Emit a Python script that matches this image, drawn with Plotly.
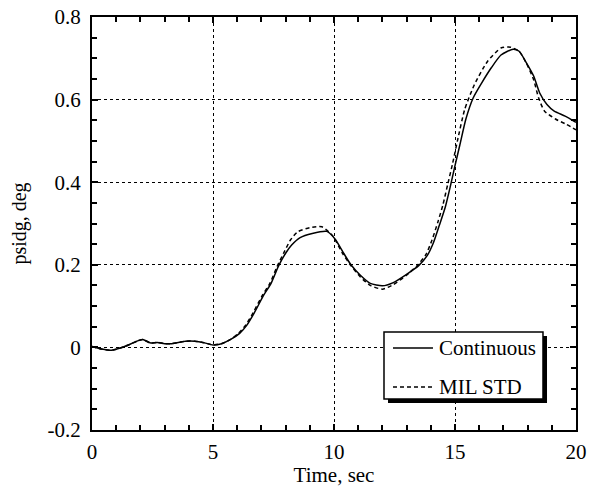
import plotly.graph_objects as go

# Continuous response
t_cont = [0, 0.4, 0.8, 1.2, 1.55, 1.85, 2.1, 2.4, 2.7, 3.0, 3.3, 3.85, 4.25, 4.65, 5.0,
          5.35, 5.75, 6.1, 6.4, 6.7, 7.1, 7.4, 7.7, 8.0, 8.25, 8.6, 9.1, 9.7, 10.05,
          10.4, 10.7, 11.1, 11.5, 12.0, 12.45, 13.0, 13.5, 13.85, 14.1, 14.35, 14.6,
          14.8, 15.0, 15.2, 15.45, 15.75, 16.1, 16.5, 16.9, 17.4, 17.65, 17.95, 18.25,
          18.5, 18.8, 19.1, 19.55, 20]
v_cont = [0.002, -0.004, -0.007, -0.001, 0.007, 0.015, 0.019, 0.011, 0.012, 0.009, 0.009,
          0.015, 0.015, 0.011, 0.006, 0.009, 0.02, 0.034, 0.054, 0.083, 0.127, 0.155,
          0.196, 0.228, 0.248, 0.266, 0.276, 0.281, 0.262, 0.228, 0.2, 0.174, 0.155,
          0.149, 0.157, 0.177, 0.198, 0.222, 0.252, 0.295, 0.34, 0.388, 0.44, 0.49,
          0.553, 0.604, 0.64, 0.677, 0.708, 0.722, 0.717, 0.689, 0.657, 0.616, 0.588,
          0.572, 0.56, 0.545]

# MIL STD response
t_mil = [0, 0.4, 0.8, 1.2, 1.55, 1.85, 2.1, 2.4, 2.7, 3.0, 3.3, 3.85, 4.25, 4.65, 5.0,
         5.35, 5.75, 6.05, 6.35, 6.65, 7.05, 7.35, 7.65, 7.95, 8.2, 8.5, 9.0, 9.5, 9.95,
         10.35, 10.7, 11.1, 11.5, 12.0, 12.45, 13.0, 13.45, 13.8, 14.05, 14.3, 14.5,
         14.7, 14.9, 15.1, 15.4, 15.8, 16.35, 16.9, 17.3, 17.65, 17.95, 18.25, 18.45,
         18.7, 19.15, 19.6, 20]
v_mil = [0.002, -0.004, -0.007, -0.001, 0.007, 0.015, 0.019, 0.011, 0.012, 0.009, 0.009,
         0.015, 0.015, 0.011, 0.006, 0.009, 0.02, 0.034, 0.054, 0.083, 0.127, 0.155,
         0.196, 0.232, 0.26, 0.28, 0.29, 0.292, 0.27, 0.228, 0.198, 0.17, 0.15, 0.141,
         0.152, 0.175, 0.199, 0.225, 0.26, 0.305, 0.345, 0.395, 0.445, 0.5, 0.576,
         0.636, 0.693, 0.725, 0.727, 0.717, 0.688, 0.648, 0.605, 0.572, 0.553, 0.54,
         0.527]

series_names = ["Continuous", "MIL STD"]
x_ticks = [0, 5, 10, 15, 20]
y_ticks = [-0.2, 0, 0.2, 0.4, 0.6, 0.8]
y_tick_labels = ["-0.2", "0", "0.2", "0.4", "0.6", "0.8"]

FONT = "Liberation Serif, Times New Roman, serif"
DASH = "4px,3px"

fig = go.Figure()
fig.add_trace(go.Scatter(x=t_cont, y=v_cont, mode="lines", name=series_names[0],
                         line=dict(color="black", width=1.5, shape="spline", smoothing=0.6)))
fig.add_trace(go.Scatter(x=t_mil, y=v_mil, mode="lines", name=series_names[1],
                         line=dict(color="black", width=1.5, dash=DASH,
                                   shape="spline", smoothing=0.6)))

axis_common = dict(
    showline=True, linecolor="black", linewidth=2, mirror="ticks",
    ticks="inside", ticklen=6, tickwidth=1.5, tickcolor="black",
    showgrid=True, gridcolor="black", gridwidth=1, griddash="dot",
    zeroline=False, automargin=False,
    tickfont=dict(family=FONT, size=21, color="black"),
)

fig.update_xaxes(range=[0, 20], tickvals=x_ticks, ticklabelstandoff=2,
                 minor=dict(dtick=1, ticks="inside", ticklen=5, tickcolor="black", showgrid=False),
                 title=dict(text="Time, sec", font=dict(family=FONT, size=21, color="black"),
                            standoff=4),
                 **axis_common)
fig.update_yaxes(range=[-0.2, 0.8], tickvals=y_ticks, ticktext=y_tick_labels,
                 ticklabelstandoff=5,
                 minor=dict(dtick=0.05, tick0=0, ticks="inside", ticklen=5, tickcolor="black",
                            showgrid=False),
                 title=dict(text="psidg, deg", font=dict(family=FONT, size=20, color="black"),
                            standoff=16),
                 **axis_common)

# Manual boxed legend with drop shadow (paper coordinates)
box = dict(x0=0.6033, x1=0.9318, y0=0.0751, y1=0.2373)
shadow_dx, shadow_dy = 0.0083, 0.0097
fig.add_shape(type="rect", xref="paper", yref="paper",
              x0=box["x0"] + shadow_dx, x1=box["x1"] + shadow_dx,
              y0=box["y0"] - shadow_dy, y1=box["y1"] - shadow_dy,
              fillcolor="black", line=dict(width=0), layer="above")
fig.add_shape(type="rect", xref="paper", yref="paper", **box,
              fillcolor="white", line=dict(color="black", width=1.5), layer="above")
entry_y = [0.1985, 0.1041]
dashes = ["solid", DASH]
for name, yy, dsh in zip(series_names, entry_y, dashes):
    fig.add_shape(type="line", xref="paper", yref="paper", x0=0.6219, x1=0.7045,
                  y0=yy, y1=yy, line=dict(color="black", width=1.5, dash=dsh), layer="above")
    fig.add_annotation(x=0.7128, y=yy, xref="paper", yref="paper", text=name,
                       showarrow=False, xanchor="left", yanchor="middle",
                       font=dict(family=FONT, size=21, color="black"))

fig.update_layout(
    width=594, height=487,
    margin=dict(l=92, r=18, t=17, b=57),
    paper_bgcolor="white", plot_bgcolor="white",
    font=dict(family=FONT, size=21, color="black"),
    showlegend=False,
)

fig.write_html("out.html", config={"displayModeBar": False},
               post_script="document.body.style.margin='0';document.body.style.overflow='hidden';")
